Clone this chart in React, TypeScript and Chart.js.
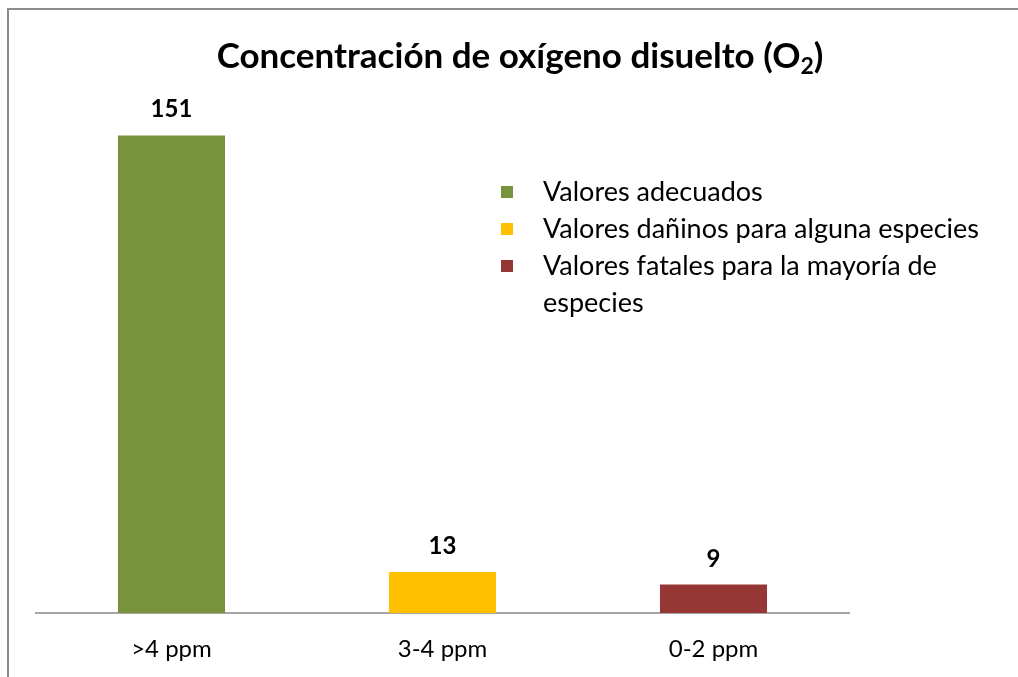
import React, { useEffect, useRef } from "react";
import { Chart, registerables } from "chart.js";

Chart.register(...registerables);

const categories = [">4 ppm", "3-4 ppm", "0-2 ppm"];
const values = [151, 13, 9];
const barColors = ["#77933C", "#FFC000", "#953735"];
const legendLabels = [
  ["Valores adecuados"],
  ["Valores dañinos para alguna especies"],
  ["Valores fatales para la mayoría de", "especies"],
];
const titleMain = "Concentración de oxígeno disuelto (O";
const titleSub = "2";
const titleEnd = ")";

const FONT = "Lato";

const decorPlugin = {
  id: "decor",
  beforeDraw(chart: any) {
    const ctx = chart.ctx;
    ctx.save();
    ctx.fillStyle = "#ffffff";
    ctx.fillRect(0, 0, chart.width, chart.height);
    ctx.strokeStyle = "#8c8c8c";
    ctx.lineWidth = 2;
    ctx.beginPath();
    ctx.moveTo(8, chart.height + 5);
    ctx.lineTo(8, 9);
    ctx.lineTo(chart.width + 5, 9);
    ctx.stroke();
    ctx.restore();
  },
  afterDatasetsDraw(chart: any) {
    const ctx = chart.ctx;
    ctx.save();
    // data labels
    const meta = chart.getDatasetMeta(0);
    ctx.fillStyle = "#000000";
    ctx.font = `bold 24px ${FONT}`;
    ctx.textAlign = "center";
    ctx.textBaseline = "alphabetic";
    meta.data.forEach((bar: any, i: number) => {
      ctx.fillText(String(values[i]), bar.x, bar.y - 18);
    });
    // title
    const bigFont = `bold 35px ${FONT}`;
    const subFont = `bold 23px ${FONT}`;
    ctx.font = bigFont;
    const w1 = ctx.measureText(titleMain).width;
    const w3 = ctx.measureText(titleEnd).width;
    ctx.font = subFont;
    const w2 = ctx.measureText(titleSub).width;
    const total = w1 + w2 + w3;
    let x = 520 - total / 2;
    const base = 68;
    ctx.textAlign = "left";
    ctx.font = bigFont;
    ctx.fillText(titleMain, x, base);
    x += w1;
    ctx.font = subFont;
    ctx.fillText(titleSub, x, base + 6);
    x += w2;
    ctx.font = bigFont;
    ctx.fillText(titleEnd, x, base);
    // legend
    ctx.font = `27px ${FONT}`;
    ctx.textBaseline = "middle";
    let y = 192;
    legendLabels.forEach((lines, i) => {
      ctx.fillStyle = barColors[i];
      ctx.fillRect(501, y - 6, 12, 12);
      ctx.fillStyle = "#000000";
      lines.forEach((line) => {
        ctx.fillText(line, 543, y);
        y += 37;
      });
    });
    ctx.restore();
  },
};

export default function App() {
  const ref = useRef<HTMLCanvasElement>(null);
  useEffect(() => {
    if (!ref.current) return;
    const chart = new Chart(ref.current, {
      type: "bar",
      data: {
        labels: categories,
        datasets: [
          {
            data: values,
            backgroundColor: barColors,
            borderWidth: 0,
            barPercentage: 0.79,
            categoryPercentage: 0.5,
          },
        ],
      },
      options: {
        animation: false,
        responsive: false,
        maintainAspectRatio: false,
        layout: { padding: { left: 36, right: 169, top: 107, bottom: 0 } },
        plugins: {
          legend: { display: false },
          title: { display: false },
          tooltip: { enabled: false },
        },
        scales: {
          x: {
            grid: { display: false, drawTicks: false },
            border: { display: true, color: "#a6a6a6", width: 2 },
            ticks: {
              color: "#000000",
              font: { family: FONT, size: 24 },
              padding: 22,
            },
            afterFit: (s: any) => {
              s.height = 64;
            },
          },
          y: {
            display: false,
            min: 0,
            max: 160,
          },
        },
      },
      plugins: [decorPlugin],
    });
    return () => chart.destroy();
  }, []);
  return (
    <div style={{ position: "absolute", left: 0, top: 0, width: 1018, height: 677, background: "#fff" }}>
      <canvas ref={ref} width={1018} height={677} style={{ width: 1018, height: 677, display: "block" }} />
    </div>
  );
}
